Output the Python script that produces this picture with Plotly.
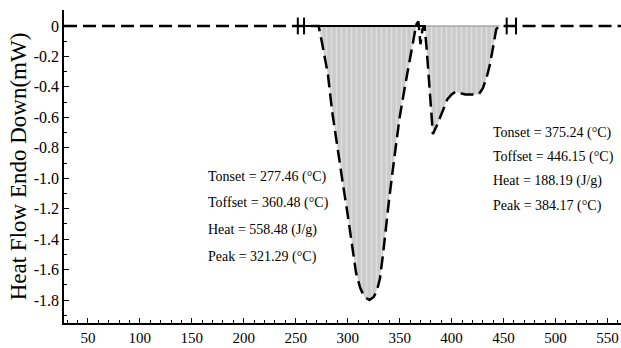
import plotly.graph_objects as go

# ---- data ----
temp = [27, 252, 258, 272, 275, 278, 281, 285, 290, 295, 300, 304, 308, 312, 316, 321,
        325, 328, 331, 334, 337, 340, 345, 350, 355, 360, 364, 366, 368, 370, 372, 374,
        376, 379, 382, 386, 390, 393, 396, 400, 404, 408, 413, 420, 426, 430, 434, 437,
        440, 443, 446, 453, 462, 563]
heat = [0, 0, 0, 0, -0.10, -0.20, -0.32, -0.56, -0.80, -1.02, -1.24, -1.43, -1.62, -1.72, -1.78, -1.80,
        -1.78, -1.74, -1.66, -1.50, -1.30, -1.13, -0.86, -0.60, -0.40, -0.22, -0.07, 0.01, 0.03, -0.12, -0.02, 0,
        -0.15, -0.45, -0.71, -0.65, -0.58, -0.52, -0.48, -0.45, -0.43, -0.44, -0.45, -0.45, -0.45, -0.41, -0.33, -0.25,
        -0.13, -0.02, 0, 0, 0, 0]

region1 = (272, 366)
region2 = (374, 446)
solid_baseline_x = [258, 375]
marker_x = [252, 258, 453, 462]

peak1_text = ["Tonset = 277.46 (°C)", "Toffset = 360.48 (°C)", "Heat = 558.48 (J/g)", "Peak = 321.29 (°C)"]
peak2_text = ["Tonset = 375.24 (°C)", "Toffset = 446.15 (°C)", "Heat = 188.19 (J/g)", "Peak = 384.17 (°C)"]

x_ticks = [50, 100, 150, 200, 250, 300, 350, 400, 450, 500, 550]
y_ticks = [0, -0.2, -0.4, -0.6, -0.8, -1.0, -1.2, -1.4, -1.6, -1.8]
y_labels = ["0", "-0.2", "-0.4", "-0.6", "-0.8", "-1.0", "-1.2", "-1.4", "-1.6", "-1.8"]

FONT = "Liberation Serif"

fig = go.Figure()

def subset(lo, hi):
    xs, ys = [], []
    for t, h in zip(temp, heat):
        if lo <= t <= hi:
            xs.append(t)
            ys.append(min(h, 0))
    return xs, ys

for lo, hi in (region1, region2):
    xs, ys = subset(lo, hi)
    fig.add_trace(go.Scatter(
        x=xs, y=ys, mode="lines", fill="tozeroy",
        line=dict(width=0, color="rgba(0,0,0,0)"),
        fillcolor="#cccccc",
        fillpattern=dict(shape="|", bgcolor="#cbcbcb", fgcolor="#f2f2f2", size=5, solidity=0.3),
        hoverinfo="skip", showlegend=False))

# thin top edge of second region
xs2, _ = subset(*region2)
fig.add_trace(go.Scatter(x=[xs2[0], xs2[-1]], y=[0, 0], mode="lines",
                         line=dict(color="#888888", width=1.2), showlegend=False))

# solid baseline
fig.add_trace(go.Scatter(x=solid_baseline_x, y=[0, 0], mode="lines",
                         line=dict(color="black", width=2), showlegend=False))

# dashed curve
fig.add_trace(go.Scatter(x=temp, y=heat, mode="lines",
                         line=dict(color="black", width=2.5, dash="13px,6px"),
                         showlegend=False))

# vertical tick markers
fig.add_trace(go.Scatter(x=marker_x, y=[0] * len(marker_x), mode="markers",
                         marker=dict(symbol="line-ns", size=12, line=dict(color="black", width=2)),
                         showlegend=False))

ann = []
for i, t in enumerate(peak1_text):
    ann.append(dict(x=164, y=-0.99 - 0.175 * i, xref="x", yref="y", text=t, showarrow=False,
                    xanchor="left", yanchor="middle",
                    font=dict(family=FONT, size=14, color="black")))
for i, t in enumerate(peak2_text):
    ann.append(dict(x=438, y=-0.70 - 0.16 * i, xref="x", yref="y", text=t, showarrow=False,
                    xanchor="left", yanchor="middle",
                    font=dict(family=FONT, size=14, color="black")))

fig.update_layout(
    width=621, height=348,
    margin=dict(l=64, r=0, t=10, b=25),
    paper_bgcolor="white", plot_bgcolor="white",
    annotations=ann,
    font=dict(family=FONT, color="black"),
    xaxis=dict(range=[27, 563], tickvals=x_ticks, ticks="inside", ticklen=5,
               tickwidth=1, tickcolor="black", automargin=False, ticklabelstandoff=0,
               ticklabeloverflow="allow",
               minor=dict(dtick=10, ticks="inside", ticklen=3, tickcolor="black"),
               showline=True, linecolor="black", linewidth=1.5, mirror=False,
               showgrid=False, zeroline=False,
               tickfont=dict(family=FONT, size=15, color="black")),
    yaxis=dict(range=[-1.951, 0.105], tickvals=y_ticks, ticktext=y_labels,
               ticks="inside", ticklen=5, tickwidth=1, tickcolor="black", automargin=False,
               minor=dict(dtick=0.1, ticks="inside", ticklen=3, tickcolor="black"),
               showline=True, linecolor="black", linewidth=1.5, mirror=False,
               showgrid=False, zeroline=False,
               tickfont=dict(family=FONT, size=16, color="black"),
               title=dict(text="Heat Flow Endo Down(mW)", standoff=1,
                          font=dict(family=FONT, size=23, color="black"))),
)

# remove the browser's default page margin so the figure fills the window exactly
fig.write_html("out.html",
               config={"displayModeBar": False},
               post_script="document.body.style.margin='0';document.body.style.overflow='hidden';")
